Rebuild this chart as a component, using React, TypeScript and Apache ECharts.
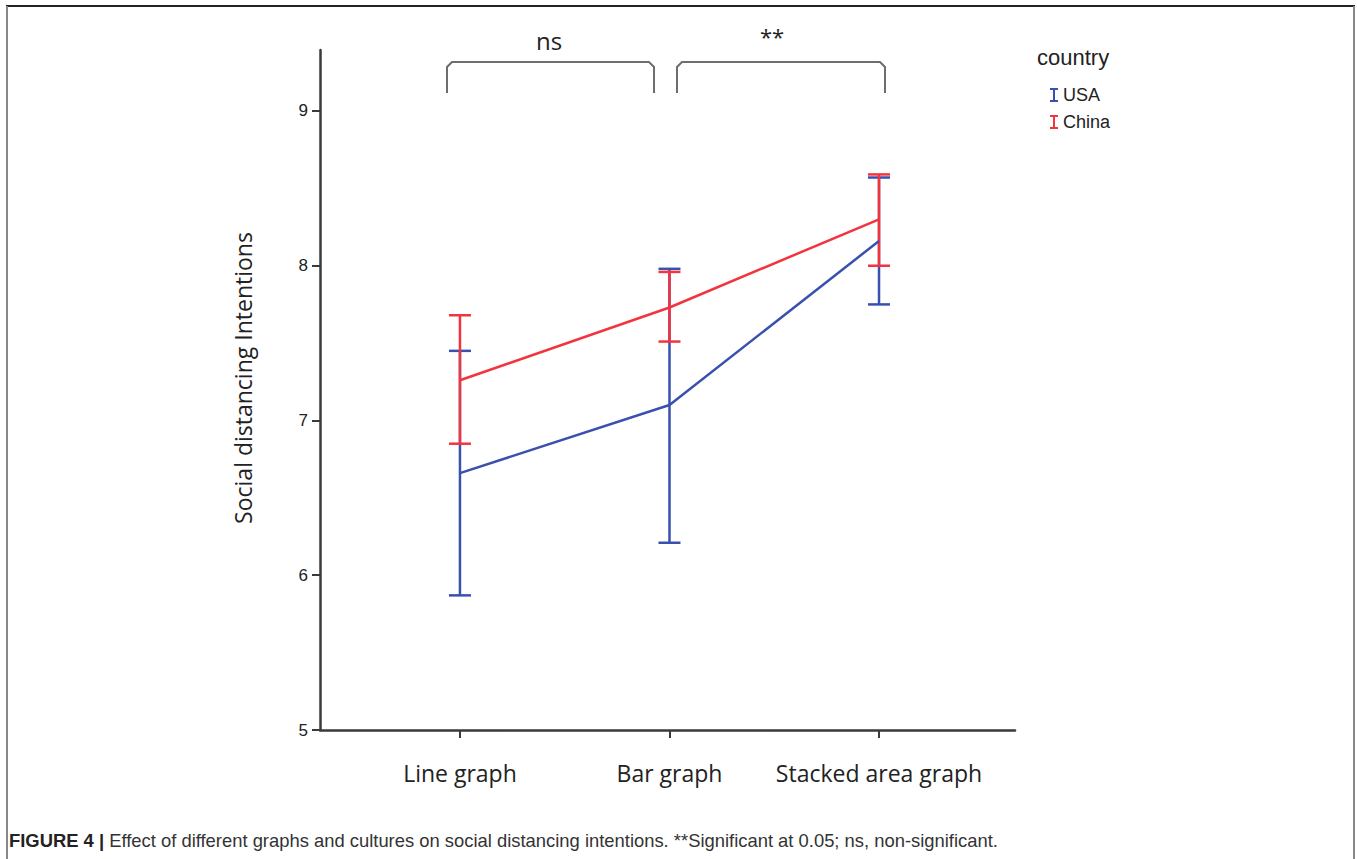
import React, { useEffect, useRef } from "react";
import * as echarts from "echarts";

const categories = ["Line graph", "Bar graph", "Stacked area graph"];
const catIndex = [0, 1, 2];
const yTicks = [5, 6, 7, 8, 9];

const usaMean = [6.66, 7.1, 8.16];
const usaLow = [5.87, 6.21, 7.75];
const usaHigh = [7.45, 7.98, 8.57];

const chinaMean = [7.26, 7.73, 8.3];
const chinaLow = [6.85, 7.51, 8.0];
const chinaHigh = [7.68, 7.96, 8.59];

const BLUE = "#3a50ae";
const RED = "#f2343f";

const errData = (low: number[], high: number[]) =>
  catIndex.map((c, i) => [c, low[i], high[i]]);

const errSeries = (name: string, color: string, low: number[], high: number[]) => ({
  type: "custom",
  name: name + " CI",
  data: errData(low, high),
  z: 3,
  renderItem: (params: any, api: any) => {
    const x = api.value(0);
    const lo = api.coord([x, api.value(1)]);
    const hi = api.coord([x, api.value(2)]);
    const w = 11;
    const style = { stroke: color, lineWidth: 2.5, fill: "none" };
    return {
      type: "group",
      children: [
        { type: "line", shape: { x1: lo[0], y1: lo[1], x2: hi[0], y2: hi[1] }, style },
        { type: "line", shape: { x1: lo[0] - w, y1: lo[1], x2: lo[0] + w, y2: lo[1] }, style },
        { type: "line", shape: { x1: hi[0] - w, y1: hi[1], x2: hi[0] + w, y2: hi[1] }, style },
      ],
    };
  },
});

export default function App() {
  const ref = useRef<HTMLDivElement>(null);
  useEffect(() => {
    document.body.style.margin = "0";
    const chart = echarts.init(ref.current!, undefined, { renderer: "svg" });
    const bracketStyle = { stroke: "#6e6e6e", lineWidth: 2, fill: "none" };
    chart.setOption({
      animation: false,
      backgroundColor: "#ffffff",
      grid: { left: 320, right: 342, top: 50, bottom: 129, containLabel: false },
      xAxis: {
        type: "value",
        min: -0.668,
        max: 2.649,
        splitLine: { show: false },
        axisLine: { show: true, onZero: false, lineStyle: { color: "#3a3a3a", width: 2.5 } },
        axisTick: { show: true, customValues: catIndex, length: 8, lineStyle: { color: "#3a3a3a", width: 2 } },
        axisLabel: {
          customValues: catIndex,
          formatter: (v: number) => categories[Math.round(v)] ?? "",
          margin: 31,
          fontSize: 23,
          color: "#222",
          fontFamily: "Open Sans",
        },
      },
      yAxis: {
        type: "value",
        min: 5,
        max: 9.394,
        splitLine: { show: false },
        axisLine: { show: true, onZero: false, lineStyle: { color: "#3a3a3a", width: 2.5 } },
        axisTick: { show: true, customValues: yTicks, length: 8, lineStyle: { color: "#3a3a3a", width: 2 } },
        axisLabel: {
          customValues: yTicks,
          margin: 12,
          fontSize: 17,
          color: "#222",
          fontFamily: "Liberation Sans",
        },
      },
      legend: {
        orient: "vertical",
        left: 1045,
        top: 81,
        itemGap: 9,
        itemWidth: 8,
        itemHeight: 15,
        data: [
          { name: "USA", icon: "path://M0,0H8V2H5V12H8V14H0V12H3V2H0Z" },
          { name: "China", icon: "path://M0,0H8V2H5V12H8V14H0V12H3V2H0Z" },
        ],
        textStyle: { fontSize: 18, color: "#222", fontFamily: "Liberation Sans" },
      },
      series: [
        errSeries("USA", BLUE, usaLow, usaHigh),
        errSeries("China", RED, chinaLow, chinaHigh),
        {
          type: "line",
          name: "USA",
          data: catIndex.map((c, i) => [c, usaMean[i]]),
          color: BLUE,
          symbol: "none",
          lineStyle: { width: 2.5, color: BLUE },
          z: 4,
        },
        {
          type: "line",
          name: "China",
          data: catIndex.map((c, i) => [c, chinaMean[i]]),
          color: RED,
          symbol: "none",
          lineStyle: { width: 2.5, color: RED },
          z: 5,
        },
      ],
      graphic: [
        { type: "line", shape: { x1: 6, y1: 6, x2: 1355, y2: 6 }, style: { stroke: "#222", lineWidth: 2 } },
        { type: "line", shape: { x1: 7, y1: 6, x2: 7, y2: 859 }, style: { stroke: "#888", lineWidth: 2 } },
        { type: "line", shape: { x1: 1354, y1: 6, x2: 1354, y2: 859 }, style: { stroke: "#888", lineWidth: 2 } },
        {
          type: "polyline",
          shape: { points: [[447, 93], [447, 67], [452, 62], [649, 62], [654, 67], [654, 93]] },
          style: bracketStyle,
        },
        {
          type: "polyline",
          shape: { points: [[677, 93], [677, 67], [682, 62], [880, 62], [885, 67], [885, 93]] },
          style: bracketStyle,
        },
        {
          type: "text",
          x: 549,
          y: 40,
          style: { text: "ns", fontSize: 24, fill: "#222", fontFamily: "Open Sans", align: "center", verticalAlign: "middle" },
        },
        {
          type: "text",
          x: 772,
          y: 36,
          style: { text: "**", fontSize: 22, fill: "#222", fontFamily: "Open Sans", align: "center", verticalAlign: "middle" },
        },
        {
          type: "text",
          x: 243,
          y: 378,
          rotation: Math.PI / 2,
          style: {
            text: "Social distancing Intentions",
            fontSize: 23,
            fill: "#222",
            fontFamily: "Open Sans",
            align: "center",
            verticalAlign: "middle",
          },
        },
        {
          type: "text",
          x: 1037,
          y: 57,
          style: { text: "country", fontSize: 22, fill: "#222", fontFamily: "Liberation Sans", verticalAlign: "middle" },
        },
        {
          type: "text",
          x: 9,
          y: 840,
          style: {
            text: "{b|FIGURE 4 |} Effect of different graphs and cultures on social distancing intentions. **Significant at 0.05; ns, non-significant.",
            fontSize: 18.4,
            fill: "#333",
            fontFamily: "Liberation Sans",
            verticalAlign: "middle",
            rich: {
              b: { fontSize: 18.4, fontWeight: "bold", fill: "#222", fontFamily: "Liberation Sans" },
            },
          },
        },
      ],
    });
    return () => chart.dispose();
  }, []);
  return <div ref={ref} style={{ width: 1357, height: 859 }} />;
}
